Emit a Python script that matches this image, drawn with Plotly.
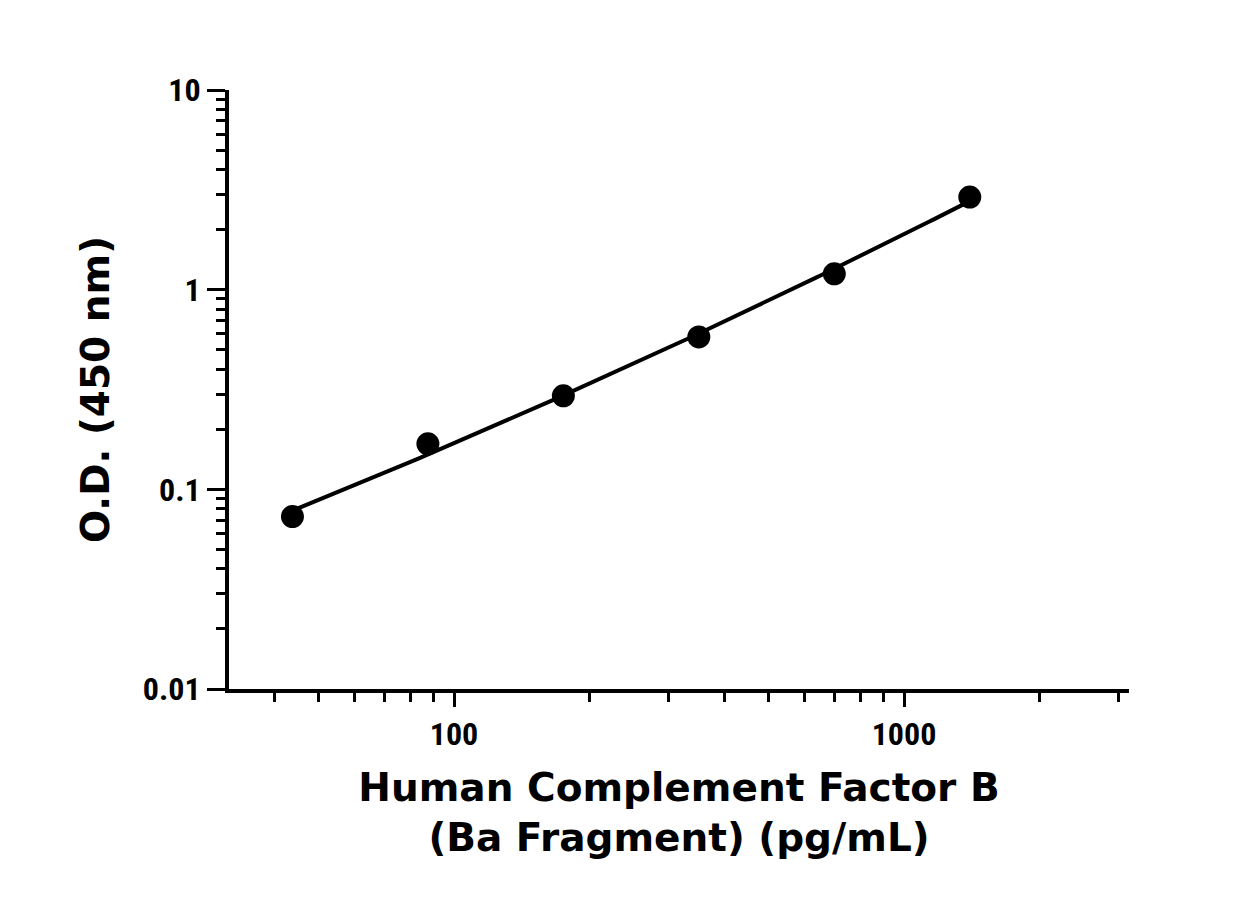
import numpy as np
import plotly.graph_objects as go

conc = [43.75, 87.5, 175, 350, 700, 1400]
od = [0.073, 0.169, 0.294, 0.58, 1.2, 2.91]

# fitted curve (quadratic in log-log space)
lx, ly = np.log10(conc), np.log10(od)
coef = np.polyfit(lx, ly, 2)
fx = np.linspace(lx.min(), lx.max(), 200)
fy = np.polyval(coef, fx)

fig = go.Figure()
fig.add_trace(go.Scatter(x=10**fx, y=10**fy, mode="lines",
                         line=dict(color="black", width=4), hoverinfo="skip"))
fig.add_trace(go.Scatter(x=conc, y=od, mode="markers",
                         marker=dict(color="black", size=23)))

tickfont = dict(family="Roboto Condensed, Liberation Sans Narrow, Roboto, Liberation Sans", size=32, color="black")
titlefont = dict(family="DejaVu Sans, Lato", size=39, color="black")

fig.update_layout(
    width=1251, height=924, showlegend=False,
    plot_bgcolor="white", paper_bgcolor="white",
    margin=dict(l=221, r=130, t=82, b=243),
    xaxis=dict(type="log", range=[1.5, 3.5], showgrid=False, zeroline=False,
               showline=True, linecolor="black", linewidth=4,
               ticks="outside", ticklen=14, tickwidth=3, tickcolor="black",
               tickvals=[100, 1000], ticktext=["<b>100</b>", "<b>1000</b>"],
               tickfont=tickfont,
               minor=dict(ticks="outside", ticklen=9, tickwidth=3, tickcolor="black",
                          tickvals=[40, 50, 60, 70, 80, 90, 200, 300, 400, 500, 600, 700, 800, 900, 2000, 3000], showgrid=False),
               title=dict(text="<b>Human Complement Factor B<br>(Ba Fragment) (pg/mL)</b>",
                          font=titlefont, standoff=22)),
    yaxis=dict(type="log", range=[-2, 1], showgrid=False, zeroline=False,
               showline=True, linecolor="black", linewidth=4,
               ticks="outside", ticklen=18, tickwidth=3, tickcolor="black",
               tickvals=[0.01, 0.1, 1, 10],
               ticktext=["<b>0.01</b>", "<b>0.1</b>", "<b>1</b>", "<b>10</b>"],
               tickfont=tickfont,
               minor=dict(ticks="outside", ticklen=9, tickwidth=3, tickcolor="black",
                          tickvals=[a*10**e for e in [-2, -1, 0] for a in range(2, 10)], showgrid=False),
               title=dict(text="<b>O.D. (450 nm)</b>", font=titlefont, standoff=22)),
)
fig.write_html("out.html")
